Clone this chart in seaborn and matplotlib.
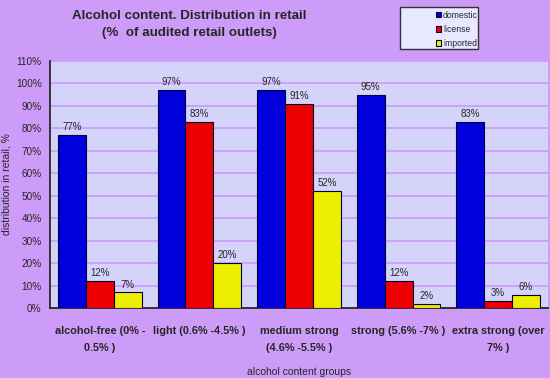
import matplotlib
matplotlib.use("Agg")
import matplotlib.pyplot as plt
from matplotlib.patches import Rectangle
import seaborn as sns
import pandas as pd
import numpy as np

categories = ["alcohol-free (0% -\n0.5% )", "light (0.6% -4.5% )", "medium strong\n(4.6% -5.5% )",
              "strong (5.6% -7% )", "extra strong (over\n7% )"]
domestic = [77, 97, 97, 95, 83]
license_ = [12, 83, 91, 12, 3]
imported = [7, 20, 52, 2, 6]
series = ["domestic", "license", "imported"]
colors = ["#0000dd", "#ee0000", "#eeee00"]

rows = []
for s, vals in zip(series, [domestic, license_, imported]):
    for c, v in zip(categories, vals):
        rows.append({"category": c, "series": s, "value": v})
df = pd.DataFrame(rows)

sns.set_theme(style="white")
plt.rcParams['font.family'] = ['Liberation Sans', 'DejaVu Sans']

fig = plt.figure(figsize=(5.5, 3.78), dpi=100)
fig.patch.set_facecolor("#cc9cf8")
ax = fig.add_axes([50/550, 1-308/378, 498/550, 247/378])
ax.set_facecolor("#d4d4fb")

sns.barplot(data=df, x="category", y="value", hue="series", palette=colors,
            width=0.84, gap=0, edgecolor="#000033", linewidth=0.8, ax=ax,
            saturation=1, legend=True, zorder=3)

for cont in ax.containers:
    ax.bar_label(cont, labels=[f"{int(v)}%" for v in cont.datavalues], fontsize=7, padding=2)

ax.set_ylim(0, 110)
ax.set_xlim(-0.5, 4.5)
ax.set_yticks(np.arange(0, 111, 10))
ax.set_yticklabels([f"{t}%" for t in range(0, 111, 10)], fontsize=7.2)
ax.yaxis.grid(True, color="#cc99ff", linewidth=1.2, zorder=0)
ax.set_axisbelow(True)

ax.set_xticks(range(5))
ax.set_xticklabels(categories, fontsize=7.8, fontweight="bold", linespacing=1.9)
ax.tick_params(axis="x", length=0, pad=13)
ax.set_xticks(np.arange(-0.5, 4.6, 1), minor=True)
ax.tick_params(axis="x", which="minor", length=4, direction="out", color="black", width=0.8)
ax.tick_params(axis="y", length=4, direction="out", color="black", width=0.8, pad=2)

for sp in ["top", "right"]:
    ax.spines[sp].set_visible(False)
ax.spines["left"].set_color("#222222")
ax.spines["bottom"].set_color("#222222")

ax.set_xlabel("alcohol content groups", fontsize=7.5)
ax.xaxis.set_label_coords(0.5, -0.237)
ax.set_ylabel("distribution in retail, %", fontsize=7.5, labelpad=3)

fig.text(0.345, 0.935, "Alcohol content. Distribution in retail\n(%  of audited retail outlets)",
         ha="center", va="center", fontsize=9.6, fontweight="bold", linespacing=1.6)

# legend frame box (drawn as a patch behind) and frameless legend inside
box = Rectangle((400/550, 1-49/378), 78/550, 42/378, transform=fig.transFigure,
                facecolor="#e8e8ff", edgecolor="#333333", linewidth=1.0, zorder=-1)
fig.patches.append(box)
leg = ax.legend(loc="upper left", bbox_to_anchor=(434/550, 1-9/378), bbox_transform=fig.transFigure,
                borderaxespad=0, fontsize=6.2, frameon=False,
                handlelength=0.6, handleheight=0.6, handletextpad=0.25, labelspacing=0.6,
                borderpad=0.2)
for t in leg.get_texts():
    t.set_fontstretch("condensed")

fig.savefig("out.png", dpi=100, facecolor=fig.get_facecolor())
